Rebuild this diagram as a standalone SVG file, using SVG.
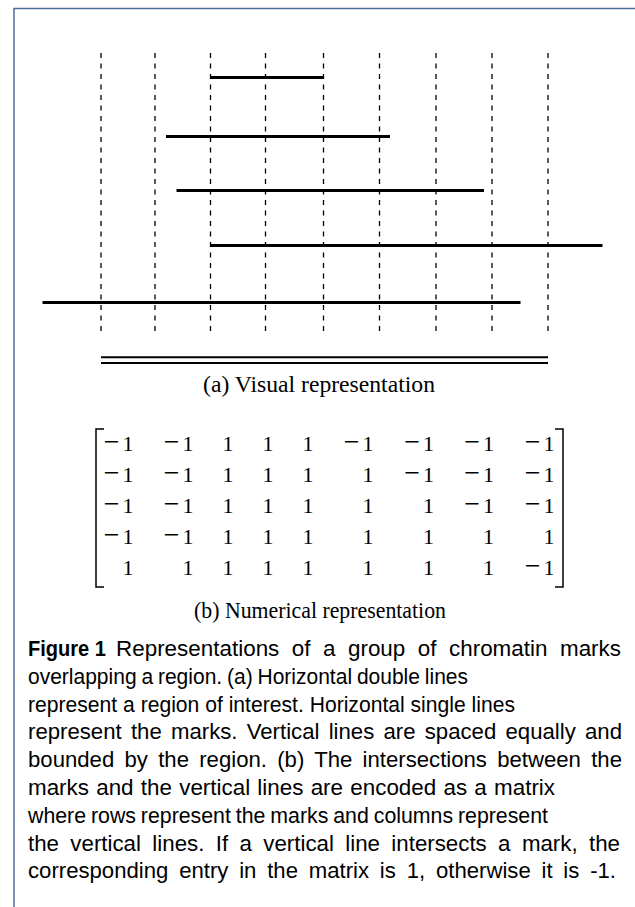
<svg xmlns="http://www.w3.org/2000/svg" width="635" height="907" viewBox="0 0 635 907">
<style>
.frame{fill:none;stroke:#4f6f98;stroke-width:1.5}
.vl{stroke:#000;stroke-width:1.3;stroke-dasharray:5 5.5;fill:none}
.mk{stroke:#000;stroke-width:3;fill:none}
.rg{stroke:#000;stroke-width:2;fill:none}
.br{stroke:#000;stroke-width:1.5;fill:none}
.sc{font-family:"Liberation Serif",serif;font-size:23px;fill:#000;text-anchor:middle}
.m{font-family:"Liberation Serif",serif;font-size:22px;fill:#000;text-anchor:end}
.mi{font-size:28px}
.cap{font-family:"Liberation Sans",sans-serif;font-size:21.5px;fill:#000}
.b{font-weight:bold}
</style>
<rect width="635" height="907" fill="#fff"/>
<rect class="frame" x="14" y="8.5" width="700" height="1000"/>
<g id="verticals">
<line class="vl" x1="101" y1="53" x2="101" y2="333"/>
<line class="vl" x1="155" y1="53" x2="155" y2="333"/>
<line class="vl" x1="210.5" y1="53" x2="210.5" y2="333"/>
<line class="vl" x1="265.5" y1="53" x2="265.5" y2="333"/>
<line class="vl" x1="323.5" y1="53" x2="323.5" y2="333"/>
<line class="vl" x1="379.5" y1="53" x2="379.5" y2="333"/>
<line class="vl" x1="436" y1="53" x2="436" y2="333"/>
<line class="vl" x1="492" y1="53" x2="492" y2="333"/>
<line class="vl" x1="548" y1="53" x2="548" y2="333"/>
</g>
<g id="marks">
<line class="mk" x1="210.5" y1="77.5" x2="323.5" y2="77.5"/>
<line class="mk" x1="166" y1="136.5" x2="390" y2="136.5"/>
<line class="mk" x1="176.5" y1="190.5" x2="484" y2="190.5"/>
<line class="mk" x1="210.5" y1="245.5" x2="602.5" y2="245.5"/>
<line class="mk" x1="42.5" y1="302.5" x2="520.5" y2="302.5"/>
</g>
<g id="region">
<line class="rg" x1="101" y1="357.3" x2="548" y2="357.3"/>
<line class="rg" x1="101" y1="363" x2="548" y2="363"/>
</g>
<text class="sc" x="319" y="392" textLength="232" lengthAdjust="spacingAndGlyphs">(a) Visual representation</text>
<g id="matrix">
<path class="br" d="M104,429 H96 V587 H104"/>
<path class="br" d="M555,429 H563 V587 H555"/>
<text class="m" y="451" x="133.5"><tspan class="mi">−</tspan><tspan dx="3">1</tspan></text>
<text class="m" y="451" x="193.5"><tspan class="mi">−</tspan><tspan dx="3">1</tspan></text>
<text class="m" y="451" x="233.5">1</text>
<text class="m" y="451" x="273.5">1</text>
<text class="m" y="451" x="313.5">1</text>
<text class="m" y="451" x="373.5"><tspan class="mi">−</tspan><tspan dx="3">1</tspan></text>
<text class="m" y="451" x="434"><tspan class="mi">−</tspan><tspan dx="3">1</tspan></text>
<text class="m" y="451" x="494"><tspan class="mi">−</tspan><tspan dx="3">1</tspan></text>
<text class="m" y="451" x="554.5"><tspan class="mi">−</tspan><tspan dx="3">1</tspan></text>

<text class="m" y="482" x="133.5"><tspan class="mi">−</tspan><tspan dx="3">1</tspan></text>
<text class="m" y="482" x="193.5"><tspan class="mi">−</tspan><tspan dx="3">1</tspan></text>
<text class="m" y="482" x="233.5">1</text>
<text class="m" y="482" x="273.5">1</text>
<text class="m" y="482" x="313.5">1</text>
<text class="m" y="482" x="373.5">1</text>
<text class="m" y="482" x="434"><tspan class="mi">−</tspan><tspan dx="3">1</tspan></text>
<text class="m" y="482" x="494"><tspan class="mi">−</tspan><tspan dx="3">1</tspan></text>
<text class="m" y="482" x="554.5"><tspan class="mi">−</tspan><tspan dx="3">1</tspan></text>

<text class="m" y="513" x="133.5"><tspan class="mi">−</tspan><tspan dx="3">1</tspan></text>
<text class="m" y="513" x="193.5"><tspan class="mi">−</tspan><tspan dx="3">1</tspan></text>
<text class="m" y="513" x="233.5">1</text>
<text class="m" y="513" x="273.5">1</text>
<text class="m" y="513" x="313.5">1</text>
<text class="m" y="513" x="373.5">1</text>
<text class="m" y="513" x="434">1</text>
<text class="m" y="513" x="494"><tspan class="mi">−</tspan><tspan dx="3">1</tspan></text>
<text class="m" y="513" x="554.5"><tspan class="mi">−</tspan><tspan dx="3">1</tspan></text>

<text class="m" y="544" x="133.5"><tspan class="mi">−</tspan><tspan dx="3">1</tspan></text>
<text class="m" y="544" x="193.5"><tspan class="mi">−</tspan><tspan dx="3">1</tspan></text>
<text class="m" y="544" x="233.5">1</text>
<text class="m" y="544" x="273.5">1</text>
<text class="m" y="544" x="313.5">1</text>
<text class="m" y="544" x="373.5">1</text>
<text class="m" y="544" x="434">1</text>
<text class="m" y="544" x="494">1</text>
<text class="m" y="544" x="554.5">1</text>

<text class="m" y="575" x="133.5">1</text>
<text class="m" y="575" x="193.5">1</text>
<text class="m" y="575" x="233.5">1</text>
<text class="m" y="575" x="273.5">1</text>
<text class="m" y="575" x="313.5">1</text>
<text class="m" y="575" x="373.5">1</text>
<text class="m" y="575" x="434">1</text>
<text class="m" y="575" x="494">1</text>
<text class="m" y="575" x="554.5"><tspan class="mi">−</tspan><tspan dx="3">1</tspan></text>
</g>
<text class="sc" x="320" y="618" textLength="252" lengthAdjust="spacingAndGlyphs">(b) Numerical representation</text>
<g id="caption">
<text class="cap b" x="28" y="656" textLength="78" lengthAdjust="spacingAndGlyphs">Figure 1</text>
<text class="cap" x="116" y="656" word-spacing="6" textLength="505" lengthAdjust="spacingAndGlyphs">Representations of a group of chromatin marks</text>
<text class="cap" x="28" y="683.8" word-spacing="-1" textLength="440" lengthAdjust="spacingAndGlyphs">overlapping a region. (a) Horizontal double lines</text>
<text class="cap" x="28" y="711.6" textLength="487" lengthAdjust="spacingAndGlyphs">represent a region of interest. Horizontal single lines</text>
<text class="cap" x="28" y="739.4" word-spacing="3" textLength="594" lengthAdjust="spacingAndGlyphs">represent the marks. Vertical lines are spaced equally and</text>
<text class="cap" x="28" y="767.2" word-spacing="4" textLength="594" lengthAdjust="spacingAndGlyphs">bounded by the region. (b) The intersections between the</text>
<text class="cap" x="28" y="795" word-spacing="1" textLength="527" lengthAdjust="spacingAndGlyphs">marks and the vertical lines are encoded as a matrix</text>
<text class="cap" x="28" y="822.8" word-spacing="-1" textLength="520" lengthAdjust="spacingAndGlyphs">where rows represent the marks and columns represent</text>
<text class="cap" x="28" y="850.6" word-spacing="5" textLength="592" lengthAdjust="spacingAndGlyphs">the vertical lines. If a vertical line intersects a mark, the</text>
<text class="cap" x="28" y="878.4" word-spacing="4.5" textLength="588" lengthAdjust="spacingAndGlyphs">corresponding entry in the matrix is 1, otherwise it is -1.</text>
</g>
</svg>
